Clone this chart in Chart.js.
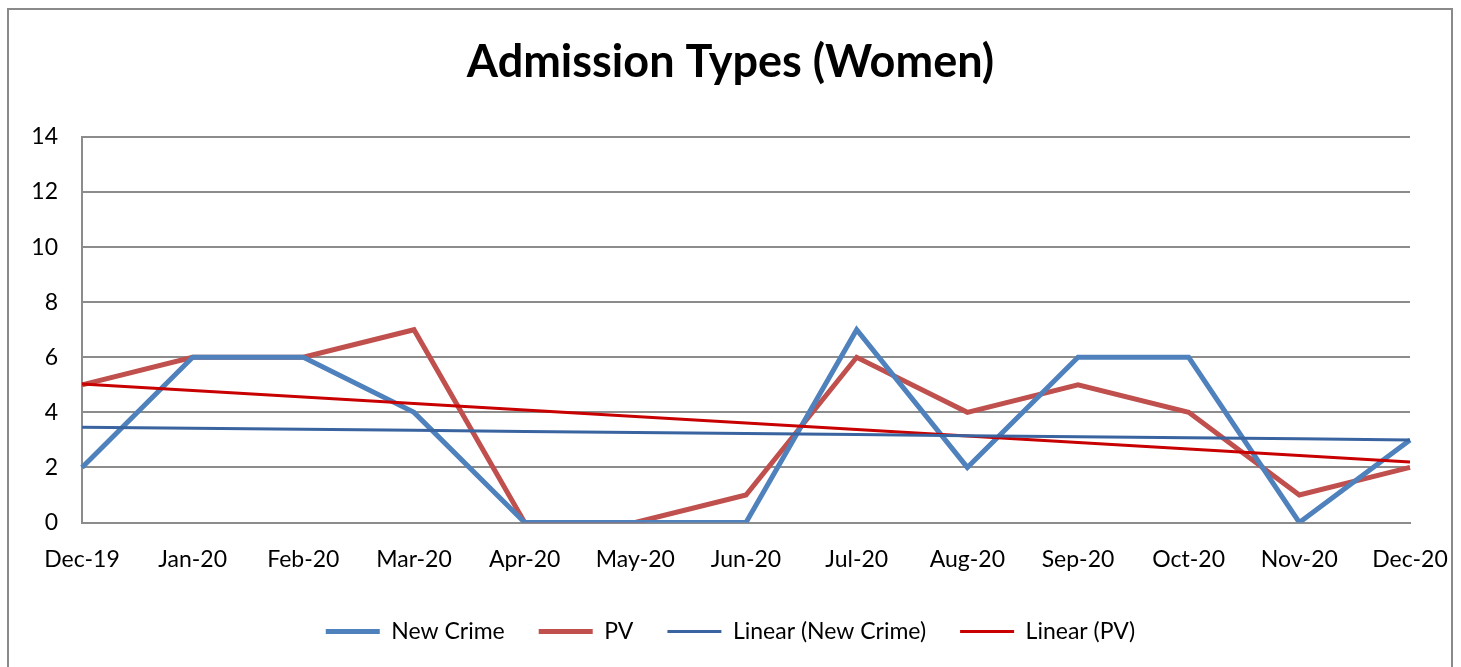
<!DOCTYPE html>
<html>
<head>
<meta charset="utf-8">
<title>Admission Types (Women)</title>
<script src="https://cdn.jsdelivr.net/npm/chart.js@4"></script>
<style>
  html, body { margin: 0; padding: 0; background: #fff; overflow: hidden; }
  #wrap { position: relative; width: 1461px; height: 667px; }
  #frame {
    position: absolute; left: 7px; top: 8px; width: 1446px; height: 700px;
    border: 2px solid #8a8a8a; box-sizing: border-box; pointer-events: none;
  }
  canvas { position: absolute; left: 0; top: 0; }
</style>
</head>
<body>
<div id="wrap">
  <canvas id="chart" width="1461" height="667"></canvas>
  <div id="frame"></div>
</div>
<script>
// Months on the x axis
const months = ['Dec-19', 'Jan-20', 'Feb-20', 'Mar-20', 'Apr-20', 'May-20', 'Jun-20',
                'Jul-20', 'Aug-20', 'Sep-20', 'Oct-20', 'Nov-20', 'Dec-20'];

// Series values
const newCrime = [2, 6, 6, 4, 0, 0, 0, 7, 2, 6, 6, 0, 3];
const pv       = [5, 6, 6, 7, 0, 0, 1, 6, 4, 5, 4, 1, 2];

// Y axis range
const yMin = 0;
const yMax = 14;
const yStep = 2;

/**
 * Least-squares linear trend of a series, like Excel's "Linear" trendline.
 */
function linearTrend(values) {
  const n = values.length;
  const mx = (n - 1) / 2;
  const my = values.reduce((s, v) => s + v, 0) / n;
  let sxy = 0, sxx = 0;
  values.forEach((v, i) => { sxy += (i - mx) * (v - my); sxx += (i - mx) * (i - mx); });
  const slope = sxy / sxx;
  return values.map((_, i) => my + slope * (i - mx));
}

const FONT = 'Lato, "Open Sans", sans-serif';
const GRID = '#8c8c8c';

new Chart(document.getElementById('chart'), {
  type: 'line',
  data: {
    labels: months,
    datasets: [
      { label: 'New Crime', data: newCrime, borderColor: '#4f81bd', backgroundColor: '#4f81bd',
        borderWidth: 5, order: 2 },
      { label: 'PV', data: pv, borderColor: '#c0504d', backgroundColor: '#c0504d',
        borderWidth: 5, order: 2 },
      { label: 'Linear (New Crime)', data: linearTrend(newCrime), borderColor: '#3a64a0',
        backgroundColor: '#3a64a0', borderWidth: 3, order: 1 },
      { label: 'Linear (PV)', data: linearTrend(pv), borderColor: '#c80000',
        backgroundColor: '#c80000', borderWidth: 3, order: 1 }
    ]
  },
  options: {
    responsive: false,
    animation: false,
    devicePixelRatio: 1,
    elements: {
      point: { radius: 0, hoverRadius: 0 },
      line: { tension: 0, borderCapStyle: 'butt', borderJoinStyle: 'miter' }
    },
    layout: { padding: { left: 0, right: 0, top: 0, bottom: 14 } },
    plugins: {
      title: {
        display: true,
        text: 'Admission Types (Women)',
        color: '#000',
        font: { family: FONT, size: 45, weight: 'bold' },
        padding: { top: 35, bottom: 48 }
      },
      legend: {
        position: 'bottom',
        labels: {
          usePointStyle: true,
          pointStyle: 'line',
          pointStyleWidth: 54,
          padding: 34,
          color: '#000',
          font: { family: FONT, size: 23 },
          sort: (a, b) => a.datasetIndex - b.datasetIndex
        }
      },
      tooltip: { enabled: false }
    },
    scales: {
      x: {
        offset: false,
        grid: { display: false, drawTicks: false },
        border: { display: true, color: GRID, width: 2 },
        ticks: { color: '#000', font: { family: FONT, size: 23 }, padding: 23, maxRotation: 0, autoSkip: false },
        afterFit: scale => { scale.height = 63.5; scale.paddingRight = 51; }
      },
      y: {
        min: yMin,
        max: yMax,
        grid: { color: GRID, lineWidth: 2, drawTicks: false },
        border: { display: true, color: GRID, width: 2 },
        ticks: { stepSize: yStep, color: '#000', font: { family: FONT, size: 23 }, padding: 24 },
        afterFit: scale => { scale.width = 82; }
      }
    }
  }
});
</script>
</body>
</html>
